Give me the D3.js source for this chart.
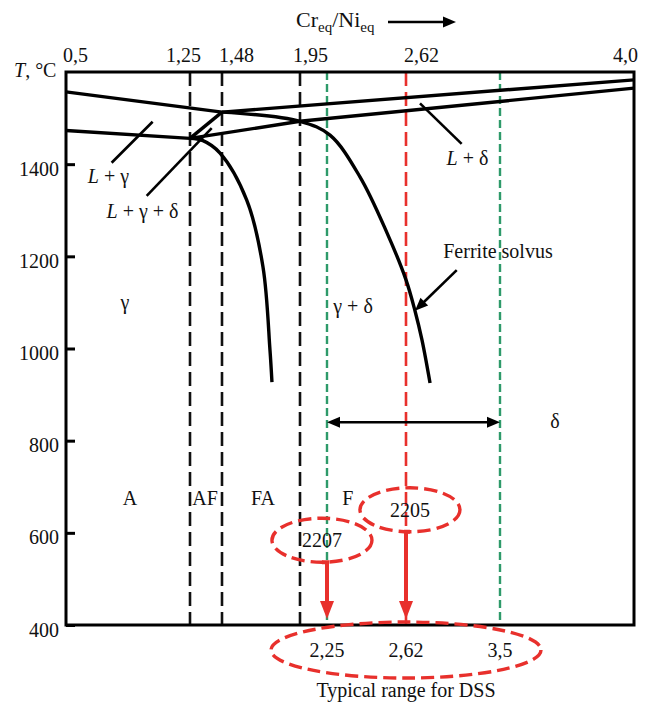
<!DOCTYPE html>
<html>
<head>
<meta charset="utf-8">
<script src="https://cdn.jsdelivr.net/npm/d3@7"></script>
<style>
body { margin: 0; background: #fff; }
</style>
</head>
<body>
<div class="svg-container"></div>
<script>
// Cr_eq/Ni_eq breaks of the (schematic, piecewise) top scale
var ratioBreaks = [0.5, 1.25, 1.48, 1.95, 2.25, 2.62, 3.5, 4.0];
var topTicks = [0.5, 1.25, 1.48, 1.95, 2.62, 4.0];
var topTickLabels = ["0,5", "1,25", "1,48", "1,95", "2,62", "4,0"];
var tempTicks = [400, 600, 800, 1000, 1200, 1400];

// phase boundaries, [Cr_eq/Ni_eq, T °C]
var liquidusGamma = [[0.5, 1557], [1.48, 1513]];
var liquidusDelta = [[1.48, 1513], [4.0, 1583]];
var solidusGamma = [[0.5, 1473], [1.25, 1456]];
var solidusDelta = [[1.25, 1456], [1.95, 1493], [4.0, 1565]];
var peritecticEdge = [[1.25, 1456], [1.48, 1513]];
var deltaSolvus = [[1.48, 1513], [1.95, 1493], [2.264, 1463], [2.405, 1372], [2.531, 1251],
                   [2.62, 1149], [2.704, 1082], [2.77, 1018], [2.845, 925]];
var gammaSolvus = [[1.25, 1456], [1.343, 1451], [1.466, 1424], [1.629, 1322],
                   [1.727, 1177], [1.769, 997], [1.781, 927]];

// solidification mode limits
var modeLimits = [1.25, 1.48, 1.95];
var dssRange = [2.25, 3.5];
var dss2205 = 2.62;

// labels
var regionLabels = [
    { text: "L + γ", ratio: 0.757, t: 1359 },
    { text: "L + γ + δ", ratio: 0.963, t: 1283 },
    { text: "γ", ratio: 0.857, t: 1086 },
    { text: "L + δ", ratio: 3.196, t: 1398 },
    { text: "Ferrite solvus", ratio: 3.481, t: 1196 },
    { text: "γ + δ", ratio: 2.372, t: 1077 },
    { text: "δ", ratio: 3.705, t: 827 },
    { text: "A", ratio: 0.887, t: 660 },
    { text: "AF", ratio: 1.358, t: 660 },
    { text: "FA", ratio: 1.727, t: 660 },
    { text: "F", ratio: 2.348, t: 660 }
];
var pointers = [
    { from: [0.776, 1403], to: [1.024, 1492] },
    { from: [0.988, 1331], to: [1.406, 1478] },
    { from: [2.751, 1532], to: [3.141, 1444] }
];
var solvusArrow = { from: [3.095, 1170], to: [2.704, 1082] };
var deltaArrowT = 840;

var grades = [
    { name: "2207", ratio: 2.25, cx: 2.194, ct: 584 },
    { name: "2205", ratio: 2.62, cx: 2.657, ct: 650 }
];
var rangeTicks = [2.25, 2.62, 3.5];
var rangeLabels = ["2,25", "2,62", "3,5"];

var width = 655, height = 705;
var serif = "'Liberation Serif', 'Times New Roman', 'DejaVu Serif', serif";
var svg = d3.select(".svg-container").append("svg")
    .attr("width", width)
    .attr("height", height)
    .style("font-family", serif);

var x = d3.scaleLinear().domain(ratioBreaks).range([66, 190, 222, 300, 327, 406, 500, 634]);
var y = d3.scaleLinear().domain([400, 1600]).range([625, 72]);
var red = "#e8302c", green = "#2e9a6a";

// vertical dashed lines
svg.selectAll(".mode-line")
    .data(modeLimits)
    .enter().append("line")
    .attr("x1", d => x(d)).attr("x2", d => x(d))
    .attr("y1", y(1600)).attr("y2", y(400))
    .attr("stroke", "#111").attr("stroke-width", 2.6)
    .attr("stroke-dasharray", "14,6");

svg.selectAll(".dss-line")
    .data(dssRange)
    .enter().append("line")
    .attr("x1", d => x(d)).attr("x2", d => x(d))
    .attr("y1", y(1600)).attr("y2", y(400))
    .attr("stroke", green).attr("stroke-width", 2.4)
    .attr("stroke-dasharray", "8,4");

svg.append("line")
    .attr("x1", x(dss2205)).attr("x2", x(dss2205))
    .attr("y1", y(1600)).attr("y2", y(400))
    .attr("stroke", red).attr("stroke-width", 2.6)
    .attr("stroke-dasharray", "14,6");

// phase lines
var straight = d3.line().x(d => x(d[0])).y(d => y(d[1]));
var smooth = d3.line().x(d => x(d[0])).y(d => y(d[1])).curve(d3.curveCatmullRom.alpha(0.5));

[liquidusGamma, liquidusDelta, solidusGamma, solidusDelta, peritecticEdge].forEach(function(p) {
    svg.append("path").datum(p).attr("d", straight)
        .attr("fill", "none").attr("stroke", "#000").attr("stroke-width", 3.4);
});
[deltaSolvus, gammaSolvus].forEach(function(p) {
    svg.append("path").datum(p).attr("d", smooth)
        .attr("fill", "none").attr("stroke", "#000").attr("stroke-width", 3.4);
});

pointers.forEach(function(p) {
    svg.append("line")
        .attr("x1", x(p.from[0])).attr("y1", y(p.from[1]))
        .attr("x2", x(p.to[0])).attr("y2", y(p.to[1]))
        .attr("stroke", "#000").attr("stroke-width", 2.6);
});

function arrowHead(tipX, tipY, angle, len, w, color) {
    var bx = tipX - len * Math.cos(angle), by = tipY - len * Math.sin(angle);
    var nx = -Math.sin(angle) * w / 2, ny = Math.cos(angle) * w / 2;
    svg.append("path")
        .attr("d", "M" + tipX + "," + tipY + "L" + (bx + nx) + "," + (by + ny) + "L" + (bx - nx) + "," + (by - ny) + "Z")
        .attr("fill", color);
}

// ferrite solvus arrow
var sx1 = x(solvusArrow.from[0]), sy1 = y(solvusArrow.from[1]);
var sx2 = x(solvusArrow.to[0]), sy2 = y(solvusArrow.to[1]);
var sa = Math.atan2(sy2 - sy1, sx2 - sx1);
svg.append("line")
    .attr("x1", sx1).attr("y1", sy1)
    .attr("x2", sx2 - 10 * Math.cos(sa)).attr("y2", sy2 - 10 * Math.sin(sa))
    .attr("stroke", "#000").attr("stroke-width", 2.6);
arrowHead(sx2, sy2, sa, 13, 11, "#000");

// DSS range double arrow
svg.append("line")
    .attr("x1", x(dssRange[0]) + 10).attr("x2", x(dssRange[1]) - 10)
    .attr("y1", y(deltaArrowT)).attr("y2", y(deltaArrowT))
    .attr("stroke", "#000").attr("stroke-width", 2.6);
arrowHead(x(dssRange[0]), y(deltaArrowT), Math.PI, 13, 11, "#000");
arrowHead(x(dssRange[1]), y(deltaArrowT), 0, 13, 11, "#000");

// frame and axes
svg.append("rect")
    .attr("x", x(0.5)).attr("y", y(1600))
    .attr("width", x(4.0) - x(0.5)).attr("height", y(400) - y(1600))
    .attr("fill", "none").attr("stroke", "#000").attr("stroke-width", 3);

var yAxis = svg.append("g")
    .attr("transform", "translate(" + x(0.5) + ",0)")
    .call(d3.axisLeft(y).tickValues(tempTicks).tickFormat(d3.format("d"))
        .tickSizeInner(-9).tickSizeOuter(0).tickPadding(7));
yAxis.attr("font-family", null).attr("font-size", null);
yAxis.select(".domain").remove();
yAxis.selectAll("line").attr("stroke", "#000").attr("stroke-width", 3);
yAxis.selectAll("text").attr("font-size", 20).attr("fill", "#111").attr("dy", "0.55em");

var topShift = [9, -7, 14, 10, 15, -9];
var xAxis = svg.append("g")
    .attr("transform", "translate(0," + y(1600) + ")")
    .call(d3.axisTop(x).tickValues(topTicks).tickSize(0).tickPadding(10)
        .tickFormat((d, i) => topTickLabels[i]));
xAxis.attr("font-family", null).attr("font-size", null);
xAxis.select(".domain").remove();
xAxis.selectAll("text").attr("font-size", 20).attr("fill", "#111")
    .attr("dx", (d, i) => topShift[i]);

// axis titles
var title = svg.append("text").attr("x", 296).attr("y", 27).attr("font-size", 22).attr("fill", "#111");
title.append("tspan").text("Cr");
title.append("tspan").attr("font-size", 15).attr("dy", 5).text("eq");
title.append("tspan").attr("dy", -5).text("/Ni");
title.append("tspan").attr("font-size", 15).attr("dy", 5).text("eq");
svg.append("line").attr("x1", 388).attr("x2", 446).attr("y1", 22).attr("y2", 22)
    .attr("stroke", "#000").attr("stroke-width", 2.6);
arrowHead(456, 22, 0, 13, 11, "#000");

var tLab = svg.append("text").attr("x", 14).attr("y", 77).attr("font-size", 20).attr("fill", "#111");
tLab.append("tspan").attr("font-style", "italic").text("T");
tLab.append("tspan").text(", °C");

// region labels
regionLabels.forEach(function(d) {
    var t = svg.append("text")
        .attr("x", x(d.ratio)).attr("y", y(d.t))
        .attr("font-size", 20).attr("fill", "#111").attr("text-anchor", "middle");
    if (d.text.indexOf("L") === 0) {
        t.append("tspan").attr("font-style", "italic").text("L");
        t.append("tspan").text(d.text.slice(1));
    } else {
        t.text(d.text);
    }
});

// steel grades
var dash = "13,6";
grades.forEach(function(g) {
    var cx = x(g.cx), cy = y(g.ct);
    svg.append("ellipse")
        .attr("cx", cx).attr("cy", cy).attr("rx", 50).attr("ry", 22)
        .attr("fill", "none").attr("stroke", red).attr("stroke-width", 3.4)
        .attr("stroke-dasharray", dash);
    svg.append("text").attr("x", cx).attr("y", cy + 7)
        .attr("font-size", 20).attr("fill", "#111").attr("text-anchor", "middle").text(g.name);
    var ax = x(g.ratio), tipY = y(400) - 6;
    svg.append("path")
        .attr("d", "M" + cx + "," + (cy + 22) + "H" + ax + "V" + (tipY - 14))
        .attr("fill", "none").attr("stroke", red).attr("stroke-width", 4);
    arrowHead(ax, tipY, Math.PI / 2, 18, 14, red);
});

// typical range below the axis
var by = y(400) + 25;
svg.append("ellipse")
    .attr("cx", x(2.62)).attr("cy", by).attr("rx", 135).attr("ry", 28)
    .attr("fill", "none").attr("stroke", red).attr("stroke-width", 3.4)
    .attr("stroke-dasharray", dash);
svg.selectAll(".range-label")
    .data(rangeTicks)
    .enter().append("text")
    .attr("x", d => x(d)).attr("y", by + 7)
    .attr("font-size", 20).attr("fill", "#111").attr("text-anchor", "middle")
    .text((d, i) => rangeLabels[i]);
svg.append("text").attr("x", x(2.62)).attr("y", by + 47)
    .attr("font-size", 20).attr("fill", "#111").attr("text-anchor", "middle")
    .text("Typical range for DSS");
</script>
</body>
</html>
